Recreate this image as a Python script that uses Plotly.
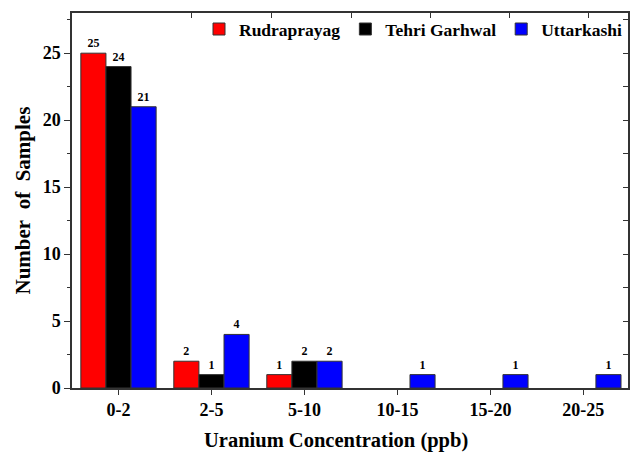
import plotly.graph_objects as go

categories = ["0-2", "2-5", "5-10", "10-15", "15-20", "20-25"]
rudraprayag = [25, 2, 1, None, None, None]
tehri_garhwal = [24, 1, 2, None, None, None]
uttarkashi = [21, 4, 2, 1, 1, 1]
# tick positions of the (unlabelled) top axis, in category units
top_ticks = [0.786, 1.647, 2.508, 3.358, 4.209, 5.059]

series = [
    ("Rudraprayag", rudraprayag, "#ff0000"),
    ("Tehri Garhwal", tehri_garhwal, "#000000"),
    ("Uttarkashi", uttarkashi, "#0000ff"),
]

FONT = "Liberation Serif, Times New Roman, serif"
LINE = "#333333"

fig = go.Figure()
for name, vals, color in series:
    fig.add_trace(go.Bar(
        name="<b>" + name + "</b>", x=categories, y=vals,
        marker=dict(color=color, line=dict(color=LINE, width=1)),
        text=[("" if v is None else str(v)) for v in vals],
        texttemplate="<b>%{text}</b>",
        textposition="outside",
        textfont=dict(family=FONT, size=12, color="black"),
        cliponaxis=False,
    ))

# invisible trace to activate the top/right tick axes
fig.add_trace(go.Scatter(x=[0, 5], y=[0, 1], xaxis="x2", yaxis="y2",
                         mode="lines", line=dict(color="rgba(0,0,0,0)"), showlegend=False,
                         hoverinfo="skip"))

axis_font = dict(family=FONT, size=18, color="black")
XR = [-0.5, 5.48]
YR = [0, 28]
fig.update_layout(
    width=630, height=453,
    margin=dict(l=72, r=2, t=13, b=65),
    plot_bgcolor="rgba(0,0,0,0)", paper_bgcolor="white",
    barmode="group", bargap=0.19, bargroupgap=0,
    font=dict(family=FONT, color="black"),
    legend=dict(
        orientation="h", x=1.0, xanchor="right", y=1.005, yanchor="top",
        font=dict(family=FONT, size=17.5, color="black"),
        bgcolor="rgba(0,0,0,0)", traceorder="normal",
        itemwidth=30,
    ),
    xaxis=dict(
        type="category", range=XR, automargin=False,
        showline=True, mirror=True, linecolor=LINE, linewidth=1.5,
        ticks="outside", ticklen=5, tickwidth=1.2, tickcolor=LINE,
        tickfont=axis_font, tickprefix="<b>", ticksuffix="</b>",
        showgrid=False, zeroline=False,
    ),
    yaxis=dict(
        range=YR, dtick=5, tick0=0, automargin=False,
        showline=True, mirror=True, linecolor=LINE, linewidth=1.5,
        ticks="outside", ticklen=6, tickwidth=1.2, tickcolor=LINE,
        minor=dict(dtick=2.5, ticks="outside", ticklen=3, tickcolor=LINE, tickwidth=1),
        tickfont=axis_font, tickprefix="<b>", ticksuffix="</b>",
        showgrid=False, zeroline=False,
    ),
    xaxis2=dict(
        overlaying="x", side="top", range=XR,
        tickmode="array", tickvals=top_ticks,
        ticks="inside", ticklen=5, tickwidth=1.2, tickcolor=LINE,
        showticklabels=False, showgrid=False, zeroline=False,
    ),
    yaxis2=dict(
        overlaying="y", side="right", range=YR,
        tickmode="linear", dtick=2.5, tick0=0,
        ticks="inside", ticklen=5, tickwidth=1.2, tickcolor=LINE,
        showticklabels=False, showgrid=False, zeroline=False,
    ),
    annotations=[
        dict(text="<b>Uranium Concentration (ppb)</b>", xref="paper", yref="paper",
             x=0.474, y=0, yshift=-52, xanchor="center", yanchor="middle",
             showarrow=False, font=dict(family=FONT, size=20.5, color="black")),
        dict(text="<b>Number\u00a0 of\u00a0 Samples</b>", xref="paper", yref="paper",
             x=0, xshift=-50, y=0.5, xanchor="center", yanchor="middle", textangle=-90,
             showarrow=False, font=dict(family=FONT, size=21, color="black")),
    ],
)

fig.write_html("out.html", config={"displayModeBar": False},
               post_script="document.body.style.margin='0';document.body.style.padding='0';")
